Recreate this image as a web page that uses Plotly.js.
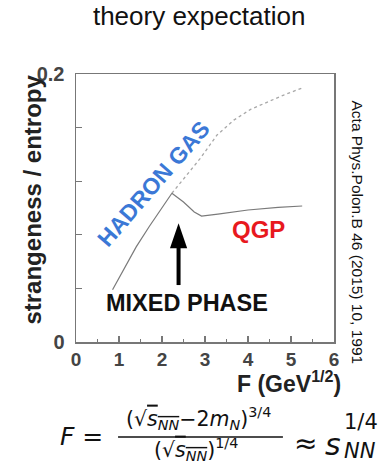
<!DOCTYPE html>
<html>
<head>
<meta charset="utf-8">
<script src="https://cdn.plot.ly/plotly-3.0.1.min.js"></script>
<style>
html,body{margin:0;padding:0;background:#fff;}
#chart{width:383px;height:464px;}
</style>
</head>
<body>
<div id="chart"></div>
<script>
// Hadron gas (solid part, below the transition)
const hadronSolidX = [0.85, 1.1, 1.4, 1.7, 2.0, 2.23];
const hadronSolidY = [0.039, 0.054, 0.071, 0.086, 0.100, 0.111];
// Hadron gas continuation (dotted)
const hadronDotX = [2.23, 2.5, 2.89, 3.28, 3.67, 4.06, 4.45, 4.83, 5.24];
const hadronDotY = [0.111, 0.122, 0.137, 0.1545, 0.1656, 0.1736, 0.1793, 0.1843, 0.1893];
// QGP / mixed phase branch
const qgpX = [2.23, 2.5, 2.75, 2.92, 3.3, 4.0, 4.7, 5.26];
const qgpY = [0.111, 0.1045, 0.097, 0.094, 0.0955, 0.0985, 0.1005, 0.1015];
// axis ticks
const xTicks = [0, 1, 2, 3, 4, 5, 6];
const xTickText = ['0', '1', '2', '3', '4', '5', '6'];
const yTicks = [0, 0.04, 0.08, 0.12, 0.16, 0.2];
const yTickText = ['0', ' ', ' ', ' ', ' ', '0.2'];

const SANS = 'Liberation Sans, Arial, sans-serif';
const MATH = 'DejaVu Sans, Liberation Sans, sans-serif';

const traces = [
  {x: hadronSolidX, y: hadronSolidY, mode: 'lines', type: 'scatter',
   line: {color: '#7a7a7a', width: 1.2}, hoverinfo: 'skip', showlegend: false},
  {x: hadronDotX, y: hadronDotY, mode: 'lines', type: 'scatter',
   line: {color: '#a8a8a8', width: 1.3, dash: 'dot'}, hoverinfo: 'skip', showlegend: false},
  {x: qgpX, y: qgpY, mode: 'lines', type: 'scatter',
   line: {color: '#7a7a7a', width: 1.2}, hoverinfo: 'skip', showlegend: false}
];

function ann(text, x, y, font, extra) {
  return Object.assign({text: text, x: x, y: y, xref: 'paper', yref: 'paper',
    xanchor: 'center', yanchor: 'middle', showarrow: false, font: font}, extra || {});
}

const layout = {
  width: 383, height: 464,
  margin: {l: 76, r: 49, t: 74, b: 122},
  paper_bgcolor: '#fff', plot_bgcolor: '#fff',
  showlegend: false,
  title: {text: 'theory expectation', font: {family: SANS, size: 26, color: '#111'},
          x: 0.52, xanchor: 'center', y: 0.966, yanchor: 'middle'},
  xaxis: {
    range: [0, 6], tickvals: xTicks, ticktext: xTickText,
    ticks: 'inside', ticklen: 6, tickwidth: 1.2, tickcolor: '#777',
    minor: {dtick: 0.5, tick0: 0, ticks: 'inside', ticklen: 3, tickcolor: '#777', tickwidth: 1.2},
    showline: true, mirror: true, linecolor: '#777', linewidth: 1.5,
    showgrid: false, zeroline: false, ticklabelstandoff: 0,
    tickfont: {family: SANS, size: 19, color: '#444', weight: 'bold'}
  },
  yaxis: {
    range: [0, 0.2], tickvals: yTicks, ticktext: yTickText,
    ticks: 'inside', ticklen: 6, tickwidth: 1.2, tickcolor: '#777',
    showline: true, mirror: true, linecolor: '#777', linewidth: 1.5,
    showgrid: false, zeroline: false, ticklabelstandoff: 6,
    tickfont: {family: SANS, size: 20, color: '#444', weight: 'bold'}
  },
  shapes: [
    {type: 'line', xref: 'x', yref: 'y', x0: 2.385, x1: 2.385, y0: 0.0425, y1: 0.071,
     line: {color: '#000', width: 4}},
    {type: 'path', xref: 'x', yref: 'y', path: 'M 2.185 0.0699 L 2.585 0.0699 L 2.385 0.0887 Z',
     fillcolor: '#000', line: {color: '#000', width: 0}},
    {type: 'line', xref: 'paper', yref: 'paper', x0: 0.163, x1: 0.802, y0: -0.3545, y1: -0.3545,
     line: {color: '#111', width: 1.3}}
  ],
  annotations: [
    {text: 'HADRON GAS', x: 1.795, y: 0.118, xref: 'x', yref: 'y', showarrow: false,
     xanchor: 'center', yanchor: 'middle',
     textangle: -49, font: {family: SANS, size: 23, color: '#3b78d6', weight: 'bold'}},
    {text: 'QGP', x: 4.24, y: 0.0836, xref: 'x', yref: 'y', showarrow: false,
     xanchor: 'center', yanchor: 'middle',
     font: {family: SANS, size: 24, color: '#e8191e', weight: 'bold'}},
    {text: 'MIXED PHASE', x: 2.58, y: 0.029, xref: 'x', yref: 'y', showarrow: false,
     xanchor: 'center', yanchor: 'middle',
     font: {family: SANS, size: 23.5, color: '#111', weight: 'bold'}},
    ann('strangeness / entropy', -0.17, 0.532,
        {family: SANS, size: 24, color: '#222', weight: 'bold'}, {textangle: -90}),
    ann('F (GeV<sup>1/2</sup>)', 1.035, -0.149,
        {family: SANS, size: 23, color: '#222', weight: 'bold'}, {xanchor: 'right'}),
    ann('Acta Phys.Polon.B 46 (2015) 10, 1991', 1.093, 0.4086,
        {family: SANS, size: 15.5, color: '#111'}, {textangle: 90}),
    // formula
    ann('<i>F</i> =', 0.0194, -0.351, {family: MATH, size: 25, color: '#111'}),
    ann('(√<span style="text-decoration:overline"><i>s</i><sub><i>NN</i></sub></span>−2<i>m</i><sub><i>N</i></sub>)<sup>3/4</sup>',
        0.475, -0.285, {family: MATH, size: 20.5, color: '#111'}),
    ann('(√<span style="text-decoration:overline"><i>s</i><sub><i>NN</i></sub></span>)<sup>1/4</sup>',
        0.465, -0.401, {family: MATH, size: 20.5, color: '#111'}),
    ann('≈', 0.891, -0.377, {family: MATH, size: 28, color: '#111'}),
    ann('<i>s</i>', 0.996, -0.384, {family: MATH, size: 30, color: '#111'}),
    ann('1/4', 1.105, -0.2985, {family: MATH, size: 21, color: '#111'}),
    ann('<i>NN</i>', 1.101, -0.405, {family: MATH, size: 21, color: '#111'})
  ]
};

Plotly.newPlot('chart', traces, layout, {staticPlot: true, displayModeBar: false});
</script>
</body>
</html>
